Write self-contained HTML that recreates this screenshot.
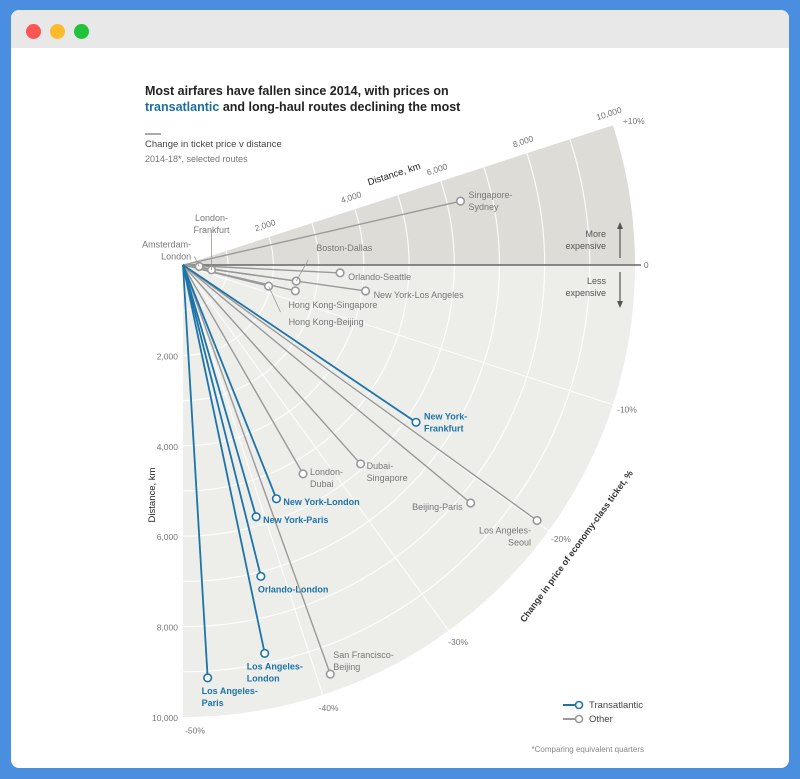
<!DOCTYPE html>
<html><head><meta charset="utf-8"><style>
body{margin:0;width:800px;height:779px;background:#4a8ee0;overflow:hidden;font-family:"Liberation Sans",sans-serif}
#win{position:absolute;left:11px;top:10px;width:778px;height:758px;background:#fff;border-radius:8px;overflow:hidden}
#bar{height:38px;background:#e8e8e8}
.dot{position:absolute;top:14px;width:15px;height:15px;border-radius:50%}
svg{position:absolute;left:0;top:0}
</style></head><body>
<div id="win">
<div id="bar"></div>
<div class="dot" style="left:15px;background:#fd5454"></div>
<div class="dot" style="left:39px;background:#fdbb2b"></div>
<div class="dot" style="left:63px;background:#23c23d"></div>
</div>
<svg id="chart" width="800" height="779" font-family="Liberation Sans, sans-serif">
<text x="145" y="95" font-size="12.5" font-weight="bold" fill="#222">Most airfares have fallen since 2014, with prices on</text>
<text x="145" y="111" font-size="12.5" font-weight="bold" fill="#222"><tspan fill="#1a6fa0">transatlantic</tspan> and long-haul routes declining the most</text>
<rect x="145" y="133" width="16" height="2" fill="#aaa"/>
<text x="145" y="147" font-size="9.5" fill="#444">Change in ticket price v distance</text>
<text x="145" y="162" font-size="9" fill="#777">2014-18*, selected routes</text>
<g id="g"></g>
</svg>
<script>
const routes=["Singapore-Sydney","Amsterdam-London","London-Frankfurt","Boston-Dallas","Orlando-Seattle","New York-Los Angeles","Hong Kong-Singapore","Hong Kong-Beijing","New York-Frankfurt","London-Dubai","Dubai-Singapore","Beijing-Paris","Los Angeles-Seoul","New York-London","New York-Paris","Orlando-London","Los Angeles-London","San Francisco-Beijing","Los Angeles-Paris"];
const distances=[6300,360,640,2530,3480,4080,2550,1950,6220,5330,5900,8260,9660,5570,5800,7100,8780,9620,9150];
const changes=[7.2,-3,-5.4,-4.5,-1.6,-4.5,-7.2,-7.7,-18.9,-33.4,-26.8,-22,-19.9,-37.9,-41,-42.2,-43.4,-39,-48.1];
const transatlantic=[0,0,0,0,0,0,0,0,1,0,0,0,0,1,1,1,1,0,1];
const distTicks=[2000,4000,6000,8000,10000];
const distTickLabels=["2,000","4,000","6,000","8,000","10,000"];
const pctTicks=[-10,-20,-30,-40,-50];
const pctTickLabels=["-10%","-20%","-30%","-40%","-50%"];
const labelStyle=[[8,-6,"start"],[-8,-22,"end"],[0,-52,"middle"],[20,-33,"start"],[8,4,"start"],[8,4,"start"],[-7,14,"start"],[20,36,"start"],[8,-6,"start"],[7,-2,"start"],[6,2,"start"],[-8,4,"end"],[-6,10,"end"],[7,3,"start"],[7,3,"start"],[-3,13,"start"],[-18,13,"start"],[3,-19,"start"],[-6,13,"start"]];
const splitLabel=[1,1,1,0,0,0,0,0,1,1,1,0,1,0,0,0,1,1,1];
const NS="http://www.w3.org/2000/svg",g=document.getElementById('g');
const OX=183,OY=265,R=452;
const rS=d=>d/10000*R, aS=p=>-p*1.8*Math.PI/180;
const pt=(d,p)=>[OX+rS(d)*Math.cos(aS(p)),OY+rS(d)*Math.sin(aS(p))];
function mk(t,a,nm,inter){const e=document.createElementNS(NS,t);for(const k in a)e.setAttribute(k,a[k]);


g.appendChild(e);return e;}
function sector(p1,p2,r){const a=pt(10000*r/R,p1),b=pt(10000*r/R,p2);return `M${OX},${OY}L${a[0]},${a[1]}A${r},${r} 0 0 ${p1>p2?1:0} ${b[0]},${b[1]}Z`;}
mk('path',{d:sector(10,0,R),fill:'#dddcd6'},'upper-sector');
mk('path',{d:sector(0,-50,R),fill:'#ededea'},'lower-sector');
for(let k=1000;k<10000;k+=1000){const a=pt(k,10),b=pt(k,-50);
mk('path',{d:`M${a[0]},${a[1]}A${rS(k)},${rS(k)} 0 0 1 ${b[0]},${b[1]}`,fill:'none',stroke:'#fff','stroke-width':1.2,'stroke-opacity':0.85},'distance-gridline');}
pctTicks.forEach((p,i)=>{const a=pt(0,p),b=pt(10000,p),c=pt(10280,p);
if(p>-50)mk('line',{x1:a[0],y1:a[1],x2:b[0]+ (c[0]-b[0])*0.4,y2:b[1]+(c[1]-b[1])*0.4,stroke:'#fff','stroke-width':1.1,'stroke-opacity':0.85},'pct-gridline');
const t=mk('text',{x:c[0]+(p==-50?12:2),y:c[1]+4,'font-size':8.5,fill:'#777','text-anchor':'middle'},'pct-tick-label');t.textContent=pctTickLabels[i];});
{const b=pt(10130,0);mk('line',{x1:OX,y1:OY,x2:b[0],y2:OY,stroke:'#666','stroke-width':1.6},'zero-line');
const t=mk('text',{x:b[0]+3,y:OY+3,'font-size':8.5,fill:'#777'},'zero-label');t.textContent='0';
const c=pt(10300,10);const t2=mk('text',{x:c[0]-3,y:c[1]+3,'font-size':8.5,fill:'#777'},'plus10-label');t2.textContent='+10%';}
distTicks.forEach((d,i)=>{const p=pt(d,10);const x=p[0]-3,y=p[1]-9;
const t=mk('text',{x:x,y:y,'font-size':8.5,fill:'#777','text-anchor':'middle',transform:`rotate(-18 ${x} ${y})`},'top-distance-tick');t.textContent=distTickLabels[i];
const t2=mk('text',{x:178,y:OY+rS(d)+4,'font-size':8.5,fill:'#777','text-anchor':'end'},'left-distance-tick');t2.textContent=distTickLabels[i];});
let t=mk('text',{x:395,y:177,'font-size':9.5,fill:'#222','text-anchor':'middle',transform:'rotate(-18 395 177)'},'top-axis-title');t.textContent='Distance, km';
t=mk('text',{x:155,y:495,'font-size':9.5,fill:'#222','text-anchor':'middle',transform:'rotate(-90 155 495)'},'left-axis-title');t.textContent='Distance, km';
t=mk('text',{x:579,y:548,'font-size':9,'font-weight':'bold',fill:'#333','text-anchor':'middle',transform:'rotate(-54 579 548)'},'pct-axis-title');t.textContent='Change in price of economy-class ticket, %';
mk('line',{x1:620,y1:225,x2:620,y2:258,stroke:'#555','stroke-width':1.2},'up-arrow');
mk('path',{d:'M617,229L620,222L623,229Z',fill:'#555'},'up-arrowhead');
mk('line',{x1:620,y1:272,x2:620,y2:305,stroke:'#555','stroke-width':1.2},'down-arrow');
mk('path',{d:'M617,301L620,308L623,301Z',fill:'#555'},'down-arrowhead');
[["More",606,237,"more-label"],["expensive",606,249,"more-label-2"],["Less",606,284,"less-label"],["expensive",606,296,"less-label-2"]].forEach(a=>{t=mk('text',{x:a[1],y:a[2],'font-size':9,fill:'#555','text-anchor':'end'},a[3]);t.textContent=a[0];});
const order=routes.map((_,i)=>i).sort((a,b)=>transatlantic[a]-transatlantic[b]);
order.forEach(i=>{const [x,y]=pt(distances[i],changes[i]);const col=transatlantic[i]?'#1d74a8':'#999';
mk('line',{x1:OX,y1:OY,x2:x,y2:y,stroke:col,'stroke-width':transatlantic[i]?1.8:1.4},'route-line');});
routes.forEach((r,i)=>{const [x,y]=pt(distances[i],changes[i]);const tr=transatlantic[i];const col=tr?'#1d74a8':'#999';
mk('circle',{cx:x,cy:y,r:3.8,fill:'#fff',stroke:col,'stroke-width':1.6},'route-point');
const [dx,dy,anc]=labelStyle[i];
const k=r.indexOf('-');
const parts=splitLabel[i]?[r.slice(0,k+1),r.slice(k+1)]:[r];
parts.forEach((s,j)=>{const tt=mk('text',{x:x+dx,y:y+dy+3+j*12,'font-size':9,'font-weight':tr?'bold':'normal',fill:tr?'#1d74a8':'#777','text-anchor':anc},'route-label');tt.textContent=s;});
if([1,2,3,7].includes(i))mk('line',{x1:x,y1:y,x2:x+dx*0.6,y2:y+dy+(dy<0?12:-10),stroke:'#999','stroke-width':0.8},'leader-line');
});
mk('line',{x1:563,y1:705,x2:576,y2:705,stroke:'#1d74a8','stroke-width':2},'legend-transatlantic-line');
mk('circle',{cx:579,cy:705,r:3.5,fill:'#fff',stroke:'#1d74a8','stroke-width':1.6},'legend-transatlantic-dot');
t=mk('text',{x:589,y:708,'font-size':9.5,fill:'#444'},'legend-transatlantic');t.textContent='Transatlantic';
mk('line',{x1:563,y1:719,x2:576,y2:719,stroke:'#999','stroke-width':2},'legend-other-line');
mk('circle',{cx:579,cy:719,r:3.5,fill:'#fff',stroke:'#999','stroke-width':1.6},'legend-other-dot');
t=mk('text',{x:589,y:722,'font-size':9.5,fill:'#444'},'legend-other');t.textContent='Other';
t=mk('text',{x:644,y:752,'font-size':8,fill:'#888','text-anchor':'end'},'footnote');t.textContent='*Comparing equivalent quarters';
</script>
</body></html>
